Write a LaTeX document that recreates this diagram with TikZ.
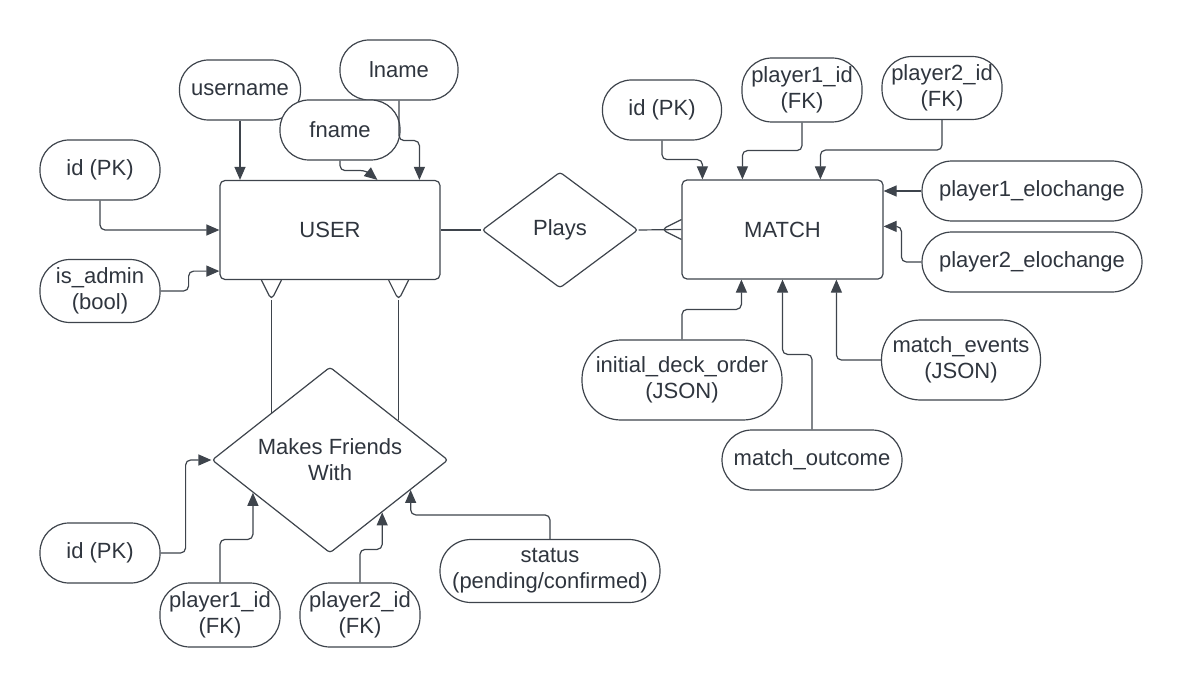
\documentclass[tikz,border=0pt]{standalone}
\usepackage{fontspec}
\setmainfont{Liberation Sans}
\usepackage{tikz}
\usetikzlibrary{shapes.geometric,positioning,calc,arrows.meta}
\definecolor{erline}{HTML}{3E444C}
\definecolor{ertext}{HTML}{2F353E}

\begin{document}
\begin{tikzpicture}[x=1pt, y=-1pt,
    er base/.style={draw=erline, line width=1.2pt, fill=white, text=ertext, font=\fontsize{22}{26}\selectfont, align=center, inner sep=2pt},
    er entity/.style={er base, rectangle, rounded corners=5pt, minimum width=220pt, minimum height=99pt},
    er attr/.style={er base, rectangle, rounded corners=29pt, minimum width=120pt, minimum height=60pt},
    er rel/.style={er base, diamond, rounded corners=3pt, inner sep=0pt},
    er link/.style={draw=erline, line width=1.2pt, rounded corners=5pt},
    er arrow/.style={er link, -{Triangle[length=13pt,width=11pt]}}]
    \useasboundingbox (0,0) rectangle (1182,687);

    % entities and relationships
    \node[er entity] (user) at (330,230) {USER};
    \node[er entity, minimum width=201pt] (match) at (782.5,229.5) {MATCH};
    \node[er rel, shape aspect=1.35, minimum width=156pt, minimum height=116pt] (plays) at (560,230) {Plays};
    \node[er rel, shape aspect=1.27, minimum width=236pt, minimum height=186pt] (friends) at (330,460) {Makes Friends\\With};

    % USER attributes
    \node[er attr, minimum width=121pt] (username) at (240,90) {username};
    \node[er attr, minimum width=118pt] (lname) at (399,70) {lname};
    \node[er attr] (fname) at (340,130) {fname};
    \node[er attr] (uid) at (100,170) {id (PK)};
    \node[er attr, minimum height=63pt, rounded corners=30pt] (admin) at (100,291) {is\_admin\\(bool)};

    % MATCH attributes
    \node[er attr, minimum width=119pt] (mid) at (662,110) {id (PK)};
    \node[er attr, minimum height=64pt, rounded corners=30pt] (mp1) at (802,90) {player1\_id\\(FK)};
    \node[er attr, minimum height=63pt, rounded corners=30pt] (mp2) at (942,88) {player2\_id\\(FK)};
    \node[er attr, minimum width=220pt, rounded corners=30pt] (elo1) at (1032,191) {player1\_elochange};
    \node[er attr, minimum width=220pt, rounded corners=30pt] (elo2) at (1032,262) {player2\_elochange};
    \node[er attr, minimum width=200pt, minimum height=80pt, rounded corners=39pt] (ideck) at (682,380) {initial\_deck\_order\\(JSON)};
    \node[er attr, minimum width=180pt, rounded corners=30pt] (mout) at (812,460) {match\_outcome};
    \node[er attr, minimum width=159pt, minimum height=80pt, rounded corners=39pt] (mev) at (961,360) {match\_events\\(JSON)};

    % friendship attributes
    \node[er attr] (fid) at (100,553) {id (PK)};
    \node[er attr, minimum height=64pt, rounded corners=30pt] (fp1) at (220,615) {player1\_id\\(FK)};
    \node[er attr, minimum height=64pt, rounded corners=30pt] (fp2) at (360,615) {player2\_id\\(FK)};
    \node[er attr, minimum width=220pt, minimum height=63pt, rounded corners=31pt] (status) at (550,571) {status\\(pending/confirmed)};

    % USER attribute links
    \draw[er arrow] (username.south) -- (username.south |- user.north);
    \draw[er arrow] (fname.south) -- ++(0,10) -- ++(26,0) -- ([xshift=158pt]user.north west);
    \draw[er arrow] (lname.south) -- ++(0,40) -| ([xshift=200pt]user.north west);
    \draw[er arrow] (uid.south) |- (user.west);
    \draw[er arrow] (admin.east) -- ++(28,0) |- ([yshift=9pt]user.south west);

    % Plays
    \draw[er link] (user.east) -- (plays.west);
    \draw[er link] (plays.east) -- (match.west);
    \draw[er link] ([yshift=10pt]match.west) -- ([xshift=-20pt]match.west) -- ([yshift=-10pt]match.west);

    % Makes Friends With, many side at USER
    \coordinate (crowA) at ([xshift=52pt,yshift=-20pt]user.south west);
    \coordinate (crowB) at ([xshift=-42pt,yshift=-20pt]user.south east);
    \coordinate (fne) at ($(friends.north)!0.576!(friends.east)$);
    \draw[er link] ([xshift=42pt]user.south west) -- (crowA) -- ([xshift=62pt]user.south west);
    \draw[er link] ([xshift=-52pt]user.south east) -- (crowB) -- ([xshift=-32pt]user.south east);
    \draw[er link] (crowA) -- (crowA |- friends.north west);
    \draw[er link] (crowB) -- (crowB |- fne);

    % friendship attribute links
    \coordinate (fsw) at ($(friends.west)!0.35!(friends.south)$);
    \coordinate (fse) at ($(friends.south)!0.44!(friends.east)$);
    \coordinate (fst) at ($(friends.south)!0.68!(friends.east)$);
    \draw[er arrow] (fid.east) -- ++(25,0) |- (friends.west);
    \draw[er arrow] (fp1.north) -- ++(0,-43) -| (fsw);
    \draw[er arrow] (fp2.north) -- ++(0,-33) -| (fse);
    \draw[er arrow] (status.north) -- ++(0,-24) -| (fst);

    % MATCH attribute links
    \draw[er arrow] (mid.south) -- ++(0,19) -| ([xshift=21pt]match.north west);
    \draw[er arrow] (mp1.south) -- ++(0,28) -| ([xshift=61pt]match.north west);
    \draw[er arrow] (mp2.south) -- ++(0,30) -| ([xshift=139pt]match.north west);
    \draw[er arrow] (elo1.west) -- (elo1.west -| match.east);
    \draw[er arrow] (elo2.west) -- ++(-20,0) |- ([yshift=-47pt]match.north east);
    \draw[er arrow] (ideck.north) -- ++(0,-30) -| ([xshift=60pt]match.south west);
    \draw[er arrow] (mout.north) -- ++(0,-75) -| (match.south);
    \draw[er arrow] (mev.west) -| ([xshift=155pt]match.south west);
\end{tikzpicture}
\end{document}
